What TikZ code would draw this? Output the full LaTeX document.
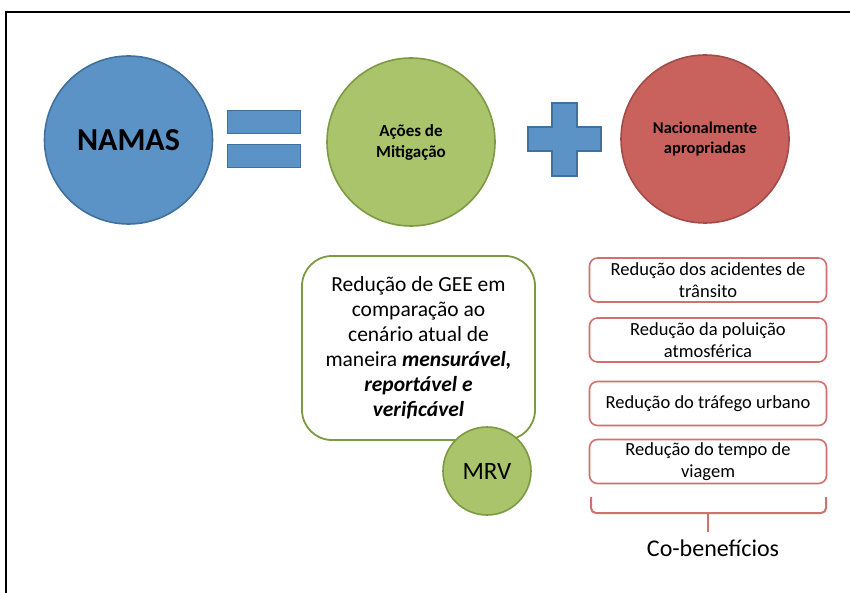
\documentclass[tikz,border=0pt]{standalone}
\usepackage{fontspec}
\setmainfont{Carlito}
\definecolor{bluefill}{HTML}{5B93C6}
\definecolor{blueline}{HTML}{41709C}
\definecolor{greenfill}{HTML}{A9C46B}
\definecolor{greenline}{HTML}{7C9A42}
\definecolor{redfill}{HTML}{C9625D}
\definecolor{redline}{HTML}{A24B47}
\definecolor{boxred}{HTML}{D0716D}
\tikzset{
  bigcircle/.style={circle, inner sep=0pt, minimum size=168pt, line width=1.6pt, align=center},
  bluecirc/.style={bigcircle, fill=bluefill, draw=blueline},
  greencirc/.style={bigcircle, fill=greenfill, draw=greenline},
  redcirc/.style={bigcircle, fill=redfill, draw=redline},
  eqbar/.style={rectangle, inner sep=0pt, minimum width=73pt, minimum height=23pt, fill=bluefill, draw=blueline, line width=1.6pt},
  cobox/.style={rectangle, rounded corners=8pt, draw=boxred, line width=1.6pt, fill=white, minimum width=237pt, minimum height=44pt, inner sep=2pt, align=center, font=\fontsize{18.5}{21.5}\selectfont},
}
\begin{document}
\begin{tikzpicture}[x=1pt,y=-1pt]
\useasboundingbox (0,0) rectangle (850,593);
% frame
\draw[line width=1.4pt] (6,593) -- (6,12) -- (850,12);
% top row
\node[bluecirc, font=\fontsize{32}{36}\selectfont\bfseries] (namas) at (128.5,140) {NAMAS};
\node[eqbar] (eqtop) at (264,122) {};
\node[eqbar] (eqbot) at (264,156) {};
\node[greencirc, font=\fontsize{17}{21}\selectfont\bfseries] (acoes) at (411,142) {Ações de\\Mitigação};
\filldraw[fill=bluefill, draw=blueline, line width=1.6pt]
  (552,103) -- (577,103) -- (577,127) -- (601,127) -- (601,151) -- (577,151)
  -- (577,176) -- (552,176) -- (552,151) -- (528,151) -- (528,127) -- (552,127) -- cycle;
\node[redcirc, font=\fontsize{16.5}{20.5}\selectfont\bfseries] (nac) at (705,139) {Nacionalmente\\apropriadas};
% MRV box
\node[rectangle, rounded corners=30pt, draw=greenline, line width=1.8pt, fill=white,
      minimum width=233pt, minimum height=184pt, inner sep=0pt, align=center,
      font=\fontsize{21.5}{25}\selectfont] (gee) at (418.5,348)
  {Redução de GEE em\\comparação ao\\cenário atual de\\maneira \textbf{\textit{mensurável,}}\\\textbf{\textit{reportável e}}\\\textbf{\textit{verificável}}};
\node[circle, inner sep=0pt, minimum size=88pt, fill=greenfill, draw=greenline, line width=1.6pt,
      font=\fontsize{25}{29}\selectfont] (mrv) at (487,471) {MRV};
% co-benefit boxes
\node[cobox] (b1) at (708,280) {Redução dos acidentes de\\trânsito};
\node[cobox] (b2) at (708,340) {Redução da poluição\\atmosférica};
\node[cobox] (b3) at (708,403.5) {Redução do tráfego urbano};
\node[cobox] (b4) at (708,461.5) {Redução do tempo de\\viagem};
% brace
\coordinate (brl) at (591,497);
\coordinate (brr) at (826,497);
\coordinate (brm) at (708,513);
\coordinate (brt) at (708,532);
\draw[boxred, line width=2pt, rounded corners=5pt] (brl) |- (brm) -| (brr);
\draw[boxred, line width=2pt] (brm) -- (brt);
\node[font=\fontsize{24}{28}\selectfont, anchor=north, inner sep=0pt] (cob) at (713,540) {Co-benefícios};
\end{tikzpicture}
\end{document}
